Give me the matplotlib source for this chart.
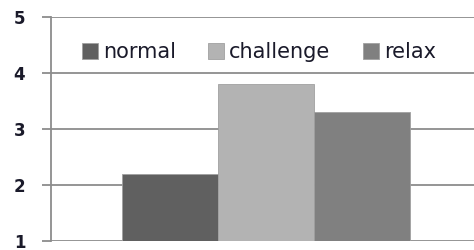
import matplotlib
matplotlib.use("Agg")
import matplotlib.pyplot as plt

categories = ["normal", "challenge", "relax"]
values = [2.2, 3.8, 3.3]
colors = ["#606060", "#b3b3b3", "#808080"]
yticks = [1, 2, 3, 4, 5]

fig = plt.figure(figsize=(4.74, 2.5), dpi=100)
ax = fig.add_axes([51 / 474, 9 / 250, 430 / 474, 224 / 250])

width = 0.223
offsets = [-width, 0, width]
for cat, val, col, off in zip(categories, values, colors, offsets):
    ax.bar(off, val - 1, bottom=1, width=width, color=col,
           edgecolor="#a0a0a0", linewidth=0.6, label=cat, zorder=3)

ax.set_xlim(-0.5, 0.5)
ax.set_ylim(1, 5)
ax.set_yticks(yticks)
ax.set_xticks([])
ax.yaxis.grid(True, color="#8c8c8c", linewidth=1.3, zorder=0)
for s in ["top", "right", "bottom"]:
    ax.spines[s].set_visible(False)
ax.spines["left"].set_color("#8c8c8c")
ax.spines["left"].set_linewidth(1.3)
ax.tick_params(axis="y", length=6.5, width=1.3, color="#8c8c8c",
               labelsize=12, labelcolor="#1a1a2a", pad=12)
for lbl in ax.get_yticklabels():
    lbl.set_fontweight("bold")

ax.legend(loc="center left", bbox_to_anchor=(0.072, 0.843), ncol=3,
          frameon=False, fontsize=15, handlelength=0.77, handleheight=0.77,
          handletextpad=0.24, columnspacing=1.55, borderpad=0,
          borderaxespad=0, labelcolor="#1a1a2a")

fig.savefig("out.png", dpi=100)
